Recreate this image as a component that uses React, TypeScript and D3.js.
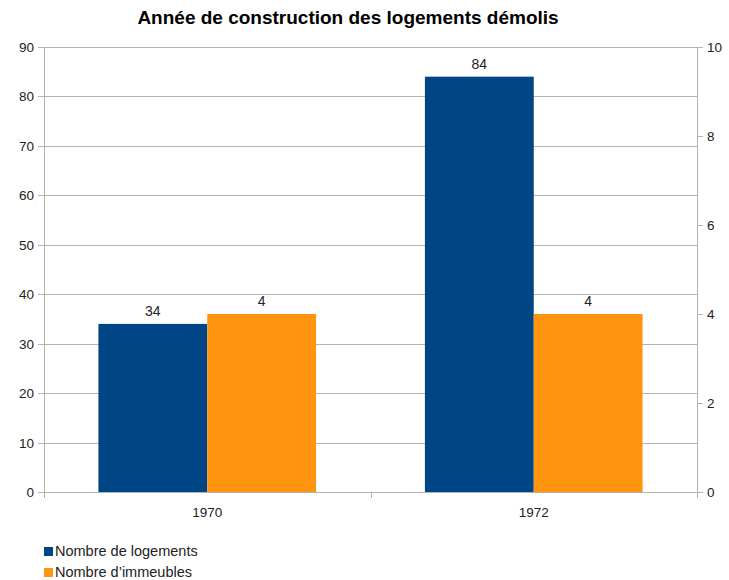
import React, { useEffect, useRef } from "react";
import * as d3 from "d3";

const categories = ["1970", "1972"];
const logements = [34, 84];
const immeubles = [4, 4];
const leftTicks = [0, 10, 20, 30, 40, 50, 60, 70, 80, 90];
const rightTicks = [0, 2, 4, 6, 8, 10];

export default function App() {
  const ref = useRef<SVGSVGElement | null>(null);

  useEffect(() => {
    const svg = d3.select(ref.current);
    svg.selectAll("*").remove();

    const width = 729;
    const height = 580;
    const margin = { top: 47, right: 32, bottom: 88, left: 44 };
    const font = "'Liberation Sans', Arial, sans-serif";
    const grid = "#b3b3b3";

    const x = d3
      .scaleBand()
      .domain(categories)
      .range([margin.left, width - margin.right]);
    const inner = d3
      .scaleBand()
      .domain(["a", "b"])
      .range([0, x.bandwidth()])
      .paddingOuter(0.5)
      .paddingInner(0);
    const yL = d3.scaleLinear().domain([0, 90]).range([height - margin.bottom, margin.top]);
    const yR = d3.scaleLinear().domain([0, 10]).range([height - margin.bottom, margin.top]);

    svg
      .append("text")
      .attr("x", 348)
      .attr("y", 24)
      .attr("text-anchor", "middle")
      .style("font", `bold 19px ${font}`)
      .attr("fill", "#000")
      .text("Année de construction des logements démolis");

    // gridlines
    svg
      .append("g")
      .selectAll("line")
      .data(leftTicks)
      .enter()
      .append("line")
      .attr("x1", margin.left - 6)
      .attr("x2", width - margin.right)
      .attr("y1", (d) => Math.round(yL(d)) + 0.5)
      .attr("y2", (d) => Math.round(yL(d)) + 0.5)
      .attr("stroke", grid);

    // right ticks
    svg
      .append("g")
      .selectAll("line")
      .data(rightTicks)
      .enter()
      .append("line")
      .attr("x1", width - margin.right)
      .attr("x2", width - margin.right + 6)
      .attr("y1", (d) => Math.round(yR(d)) + 0.5)
      .attr("y2", (d) => Math.round(yR(d)) + 0.5)
      .attr("stroke", grid);

    // axis lines
    svg
      .append("line")
      .attr("x1", margin.left + 0.5)
      .attr("x2", margin.left + 0.5)
      .attr("y1", margin.top)
      .attr("y2", height - margin.bottom + 6)
      .attr("stroke", grid);
    svg
      .append("line")
      .attr("x1", width - margin.right + 0.5)
      .attr("x2", width - margin.right + 0.5)
      .attr("y1", margin.top)
      .attr("y2", height - margin.bottom + 6)
      .attr("stroke", grid);
    const bottomTicks = [...categories.map((c) => x(c)!), width - margin.right];
    svg
      .append("g")
      .selectAll("line")
      .data(bottomTicks)
      .enter()
      .append("line")
      .attr("x1", (d) => Math.round(d) + 0.5)
      .attr("x2", (d) => Math.round(d) + 0.5)
      .attr("y1", height - margin.bottom)
      .attr("y2", height - margin.bottom + 6)
      .attr("stroke", grid);

    // tick labels
    svg
      .append("g")
      .selectAll("text")
      .data(leftTicks)
      .enter()
      .append("text")
      .attr("x", margin.left - 10)
      .attr("y", (d) => yL(d) + 5)
      .attr("text-anchor", "end")
      .style("font", `13.5px ${font}`)
      .attr("fill", "#222")
      .text((d) => d);
    svg
      .append("g")
      .selectAll("text")
      .data(rightTicks)
      .enter()
      .append("text")
      .attr("x", width - margin.right + 10)
      .attr("y", (d) => yR(d) + 5)
      .style("font", `13.5px ${font}`)
      .attr("fill", "#222")
      .text((d) => d);
    svg
      .append("g")
      .selectAll("text")
      .data(categories)
      .enter()
      .append("text")
      .attr("x", (d) => x(d)! + x.bandwidth() / 2)
      .attr("y", height - margin.bottom + 25)
      .attr("text-anchor", "middle")
      .style("font", `13.5px ${font}`)
      .attr("fill", "#222")
      .text((d) => d);

    // bars
    const series = [
      { key: "a", values: logements, scale: yL, color: "#004586" },
      { key: "b", values: immeubles, scale: yR, color: "#ff950e" },
    ];
    series.forEach((s) => {
      const g = svg.append("g");
      g.selectAll("rect")
        .data(categories)
        .enter()
        .append("rect")
        .attr("x", (d) => x(d)! + inner(s.key)!)
        .attr("y", (d, i) => s.scale(s.values[i]))
        .attr("width", inner.bandwidth())
        .attr("height", (d, i) => s.scale(0) - s.scale(s.values[i]))
        .attr("fill", s.color);
      g.selectAll("text")
        .data(categories)
        .enter()
        .append("text")
        .attr("x", (d) => x(d)! + inner(s.key)! + inner.bandwidth() / 2)
        .attr("y", (d, i) => s.scale(s.values[i]) - 8)
        .attr("text-anchor", "middle")
        .style("font", `14px ${font}`)
        .attr("fill", "#222")
        .text((d, i) => s.values[i]);
    });

    // legend
    const legend = [
      { label: "Nombre de logements", color: "#004586" },
      { label: "Nombre d’immeubles", color: "#ff950e" },
    ];
    const lg = svg
      .append("g")
      .selectAll("g")
      .data(legend)
      .enter()
      .append("g")
      .attr("transform", (d, i) => `translate(44,${547 + i * 21})`);
    lg.append("rect").attr("width", 9).attr("height", 9).attr("fill", (d) => d.color);
    lg.append("text")
      .attr("x", 11)
      .attr("y", 9)
      .style("font", `14.5px ${font}`)
      .attr("fill", "#222")
      .text((d) => d.label);
  }, []);

  return (
    <svg
      ref={ref}
      width={729}
      height={580}
      style={{ position: "absolute", left: 0, top: 0, background: "#fff" }}
    />
  );
}
